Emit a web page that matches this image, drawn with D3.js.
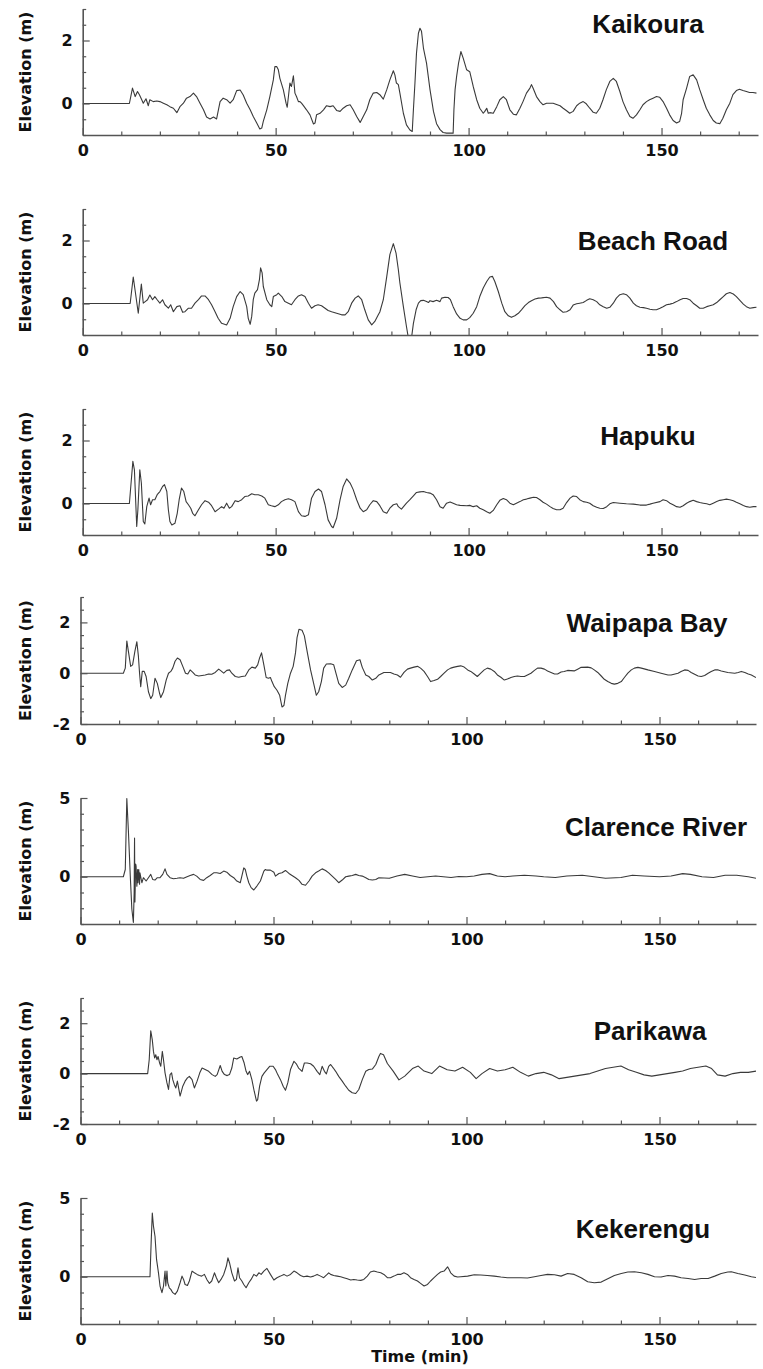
<!doctype html>
<html lang="en">
<head>
  <meta charset="utf-8">
  <title>Tsunami gauges</title>
  <script src="https://cdn.jsdelivr.net/npm/d3@7"></script>
  <style>
    body { margin: 0; background: #fff; }
    .tick line, .domain { stroke: #555; }
    .domain { stroke-width: 1.6px; }
    .tick line { stroke-width: 1.2px; }
    .tick text { font: bold 16px "DejaVu Sans", sans-serif; fill: #111; }
    .ylab, .xlab { font: bold 16px "DejaVu Sans", sans-serif; fill: #111; }
    .title { font: bold 26px "Liberation Sans", Arial, sans-serif; fill: #111; }
    .wave { fill: none; stroke: #3a3a3a; stroke-width: 1.1px; stroke-linejoin: round; }
  </style>
</head>
<body>
<svg id="chart" width="763" height="1369"></svg>
<script>
// station names, top to bottom
var names = ["Kaikoura", "Beach Road", "Hapuku", "Waipapa Bay", "Clarence River", "Parikawa", "Kekerengu"];

// [time (min), elevation (m)]
var kaikoura = [[0,0],[12.1,0],[12.9,0.49],[13.6,0.22],[14.2,0.38],[14.7,0.28],[15.3,0.12],[15.7,0.01],[16.4,0.15],[17.0,-0.07],[17.4,0.12],[18.3,0.06],[19.2,0.08],[20.0,0.06],[20.9,0.01],[21.8,-0.04],[22.6,-0.10],[23.5,-0.15],[24.4,-0.29],[25.2,-0.10],[26.1,0.01],[26.9,0.17],[27.8,0.22],[28.7,0.33],[29.5,0.22],[30.4,0.01],[31.3,-0.20],[32.1,-0.43],[33.0,-0.49],[33.9,-0.43],[34.7,-0.49],[35.6,0.06],[36.4,0.17],[37.3,0.12],[38.2,0.01],[39.0,0.12],[39.9,0.41],[40.8,0.43],[41.6,0.27],[42.5,0.01],[43.4,-0.20],[44.2,-0.41],[45.1,-0.62],[45.9,-0.81],[46.4,-0.78],[46.8,-0.57],[47.7,-0.20],[48.5,0.22],[49.4,0.75],[49.8,1.17],[50.3,1.17],[50.7,1.07],[51.1,0.80],[52.0,0.43],[52.7,0.01],[53.0,-0.12],[53.7,0.65],[54.1,0.54],[54.6,0.88],[55.0,0.33],[55.4,0.22],[55.9,0.06],[56.3,0.06],[56.7,0.01],[57.2,-0.07],[58.0,-0.20],[58.9,-0.36],[59.8,-0.65],[60.2,-0.62],[60.6,-0.36],[61.5,-0.31],[62.4,-0.20],[63.2,-0.07],[64.1,-0.10],[64.9,-0.07],[65.8,-0.22],[66.7,-0.25],[67.5,-0.15],[68.4,-0.07],[69.3,-0.04],[70.1,-0.20],[71.0,-0.41],[71.9,-0.60],[72.7,-0.41],[73.6,-0.20],[74.4,0.12],[75.3,0.33],[76.2,0.35],[77.0,0.28],
  [77.9,0.14],[78.8,0.44],[79.6,0.75],[80.5,1.04],[80.9,0.91],[81.3,0.65],[81.8,0.60],[82.2,0.33],[83.1,-0.31],[83.9,-0.68],[84.8,-0.84],[85.4,-0.89],[85.7,-0.20],[86.1,0.65],[86.5,1.60],[87.0,2.23],[87.4,2.39],[87.8,2.29],[88.3,1.76],[89.1,1.28],[90.0,0.44],[90.9,-0.25],[91.7,-0.64],[92.6,-0.83],[93.4,-0.92],[94.3,-0.94],[95.2,-0.94],[96.0,-0.94],[96.2,-0.20],[96.5,0.44],[96.9,0.86],[97.4,1.28],[98.0,1.65],[98.6,1.44],[99.5,1.07],[100.3,1.01],[101.2,0.54],[102.1,0.12],[102.9,-0.15],[103.8,-0.31],[104.2,-0.25],[104.7,-0.15],[105.1,-0.31],[105.5,-0.29],[106.4,-0.31],[107.3,-0.10],[108.1,0.12],[109.0,0.22],[109.8,0.12],[110.7,-0.20],[111.6,-0.34],[112.4,-0.36],[113.3,-0.15],[114.1,0.06],[115.0,0.33],[115.9,0.49],[116.3,0.60],[116.7,0.49],[117.6,0.22],[118.5,0.06],[119.3,-0.04],[120.2,0.01],[121.9,0.01],[123.7,-0.07],[124.5,-0.15],[125.4,-0.23],[126.2,-0.31],[127.1,-0.25],[128.0,-0.07],[128.8,0.01],[129.7,0.06],[130.5,-0.01],[131.4,-0.15],[132.3,-0.28],[133.1,-0.31],[134.0,-0.15],[134.8,0.11],[135.7,0.44],[136.6,0.70],[137.5,0.80],[138.3,0.70],[139.2,0.38],[140.0,0.06],[140.9,-0.20],[141.8,-0.41],[142.6,-0.47],[143.5,-0.36],[144.4,-0.20],[145.2,-0.04],[146.1,0.06],[146.9,0.12],[147.8,0.17],[148.7,0.22],[149.5,0.20],[150.4,0.06],[151.3,-0.15],[152.1,-0.36],[153.0,-0.54],[153.9,-0.62],[154.7,-0.57],[155.2,-0.31],[155.6,0.12],[156.5,0.49],[157.3,0.86],[158.2,0.91],[159.1,0.75],[159.9,0.44],[160.8,0.12],[161.6,-0.15],[162.5,-0.36],[163.4,-0.54],[164.2,-0.62],[165.1,-0.64],[165.9,-0.47],[166.8,-0.20],[167.7,0.01],[168.5,0.28],[169.4,0.41],[170.2,0.45],[171.1,0.41],[172.0,0.38],[172.8,0.35],[173.7,0.35],[174.6,0.33]];

var beachRoad = [[0,0],[12.3,0],[13.1,0.84],[14.4,-0.31],[15.2,0.62],[15.7,0.01],[16.2,0.06],[16.8,0.12],[17.4,0.27],[18.1,0.12],[18.7,0.22],[19.3,0.12],[20.0,0.01],[20.7,0.12],[21.3,-0.04],[22.2,-0.15],[22.8,-0.04],[23.5,-0.26],[24.4,-0.10],[25.2,-0.07],[25.9,-0.28],[26.5,-0.26],[27.4,-0.15],[28.2,-0.15],[29.1,0.01],[30.0,0.12],[30.8,0.24],[31.7,0.24],[32.6,0.12],[33.4,-0.04],[34.3,-0.26],[35.1,-0.47],[36.0,-0.63],[37.3,-0.68],[38.2,-0.47],[39.0,-0.10],[39.9,0.22],[40.8,0.38],[41.6,0.28],[42.5,-0.10],[42.9,-0.47],[43.4,-0.66],[43.8,-0.41],[44.2,0.12],[44.6,0.33],[45.3,0.44],[45.8,0.76],[46.1,1.13],[46.5,0.97],[46.8,0.54],[47.7,0.12],[48.5,-0.04],[49.0,-0.10],[49.4,0.22],[50.3,0.28],[50.7,0.33],[51.6,0.22],[52.4,0.06],[53.3,0.01],[54.1,-0.04],[55.0,0.12],[55.9,0.24],[56.7,0.28],[57.6,0.22],[58.5,0.01],[59.3,-0.15],[60.2,-0.07],[61.0,-0.04],[61.9,-0.07],[62.8,-0.15],[63.6,-0.22],[64.5,-0.26],[65.8,-0.31],[67.1,-0.36],[68.0,-0.36],[68.8,-0.26],[69.7,0.01],[70.6,0.17],[71.4,0.24],[72.3,0.12],[73.1,-0.20],[74.0,-0.52],[74.9,-0.68],[75.7,-0.57],[76.6,-0.36],[77.0,-0.27],
  [77.9,0.12],[78.8,0.86],[79.6,1.55],[80.5,1.90],[81.2,1.60],[81.8,1.07],[82.2,0.65],[83.1,-0.10],[83.9,-0.73],[84.4,-1.1],[85.2,-1.1],[85.7,-0.63],[86.4,-0.20],[87.0,0.01],[87.6,0.09],[88.3,0.10],[89.1,0.06],[89.6,0.03],[90.0,0.09],[90.8,0.06],[91.7,0.10],[92.6,0.06],[93.0,0.17],[93.9,0.20],[94.7,0.19],[95.3,0.12],[96.0,-0.10],[96.9,-0.33],[97.8,-0.47],[98.6,-0.52],[99.5,-0.52],[100.3,-0.45],[101.2,-0.31],[102.1,-0.10],[102.9,0.22],[103.8,0.49],[104.7,0.70],[105.5,0.84],[106.2,0.86],[106.8,0.70],[107.7,0.38],[108.6,0.01],[109.4,-0.26],[110.3,-0.39],[111.1,-0.44],[112.0,-0.39],[112.9,-0.31],[113.7,-0.20],[114.6,-0.07],[115.5,0.03],[116.3,0.09],[117.2,0.14],[118.1,0.17],[118.9,0.18],[120.2,0.20],[121.1,0.17],[122.0,0.06],[122.8,-0.10],[123.7,-0.20],[124.5,-0.28],[125.4,-0.26],[126.3,-0.20],[127.1,-0.05],[128.0,-0.01],[128.8,0.01],[129.7,0.03],[130.6,0.10],[131.4,0.15],[132.3,0.12],[133.2,0.06],[134.0,-0.04],[134.9,-0.10],[135.8,-0.15],[136.6,-0.12],[137.5,0.01],[138.3,0.17],[139.2,0.28],[140.1,0.31],[140.9,0.28],[141.8,0.17],[142.7,0.01],[143.5,-0.07],[144.4,-0.12],[145.3,-0.13],[146.1,-0.15],[147.0,-0.18],[147.8,-0.20],[148.7,-0.20],[149.6,-0.15],[150.4,-0.10],[151.3,-0.04],[152.2,-0.02],[153.0,0.01],[153.9,0.06],[154.8,0.12],[155.6,0.16],[156.5,0.16],[157.3,0.12],[158.2,0.01],[159.1,-0.07],[159.9,-0.15],[160.8,-0.15],[161.7,-0.10],[162.5,-0.07],[163.4,-0.04],[164.3,0.03],[165.1,0.12],[166.0,0.22],[166.8,0.31],[167.7,0.35],[168.6,0.30],[169.4,0.22],[170.3,0.10],[171.2,-0.02],[172.0,-0.10],[172.9,-0.15],[173.8,-0.13],[174.6,-0.12]];

var hapuku = [[0,0],[12.1,0],[13.0,1.34],[13.4,1.07],[14.0,-0.73],[14.3,-0.20],[14.8,1.07],[15.2,0.65],[15.7,-0.57],[16.1,-0.65],[16.6,-0.10],[17.2,0.17],[17.6,-0.04],[18.1,0.12],[18.7,0.12],[19.3,0.28],[20.0,0.38],[20.7,0.54],[21.2,0.60],[21.8,0.38],[22.2,-0.20],[22.6,-0.57],[23.1,-0.68],[23.9,-0.63],[24.5,-0.31],[25.0,0.12],[25.6,0.49],[26.2,0.38],[26.8,0.06],[27.4,-0.04],[28.0,-0.15],[28.5,-0.31],[29.1,-0.39],[30.0,-0.20],[30.8,-0.04],[31.7,0.09],[32.6,0.04],[33.4,-0.07],[34.3,-0.26],[35.2,-0.18],[36.0,-0.10],[36.6,-0.15],[37.3,0.01],[38.0,-0.15],[38.6,-0.10],[39.5,0.09],[40.3,0.06],[41.2,0.12],[42.0,0.22],[42.9,0.24],[43.8,0.31],[44.6,0.28],[45.5,0.28],[46.4,0.24],[47.2,0.17],[48.1,-0.04],[48.9,-0.07],[49.8,-0.10],[50.7,-0.04],[51.5,0.06],[52.4,0.12],[53.3,0.15],[54.1,0.12],[55.0,0.06],[55.9,-0.26],[56.7,-0.39],[57.6,-0.41],[58.5,-0.36],[59.3,0.17],[60.2,0.38],[61.1,0.46],[61.9,0.38],[62.8,-0.04],[63.6,-0.52],[64.5,-0.73],[64.9,-0.77],[65.8,-0.47],[66.7,0.12],[67.5,0.54],[68.4,0.78],[69.3,0.65],[70.1,0.44],[71.0,0.12],[71.9,-0.15],[72.7,-0.26],[73.6,-0.20],[74.4,-0.04],[75.3,0.09],[76.2,0.06],[77.0,-0.07],
  [77.9,-0.26],[78.8,-0.31],[79.6,-0.15],[80.5,-0.04],[81.4,-0.01],[81.8,-0.10],[82.6,-0.18],[83.9,0.01],[84.8,0.12],[85.7,0.24],[86.5,0.35],[87.4,0.37],[88.3,0.38],[89.1,0.35],[90.0,0.33],[90.8,0.28],[91.7,0.12],[92.6,-0.10],[93.4,-0.15],[94.3,0.01],[95.2,0.05],[96.0,0.01],[96.9,-0.04],[97.8,-0.06],[99.5,-0.07],[100.3,-0.06],[101.2,-0.10],[102.1,-0.07],[102.9,-0.15],[103.8,-0.20],[104.7,-0.26],[105.5,-0.31],[106.4,-0.22],[107.3,-0.04],[108.1,0.10],[109.0,0.16],[109.8,0.12],[110.7,0.01],[111.6,-0.04],[112.4,0.01],[113.3,0.06],[114.2,0.12],[115.0,0.14],[115.9,0.17],[116.8,0.20],[117.6,0.19],[118.5,0.12],[119.3,0.04],[120.2,-0.02],[121.1,-0.10],[121.9,-0.16],[122.8,-0.20],[123.7,-0.20],[124.5,-0.15],[125.4,0.03],[126.3,0.17],[127.1,0.24],[128.0,0.22],[128.8,0.12],[129.7,0.06],[130.6,0.04],[131.4,0.01],[132.3,-0.07],[133.2,-0.12],[134.0,-0.15],[134.9,-0.16],[135.8,-0.10],[136.6,-0.01],[137.5,0.03],[139.2,0.01],[140.9,-0.01],[142.7,-0.02],[144.4,-0.05],[146.1,-0.05],[147.0,-0.02],[147.8,0.01],[149.6,0.06],[150.4,0.12],[151.3,0.09],[152.2,0.01],[153.0,-0.04],[153.9,-0.10],[154.8,-0.12],[155.6,-0.07],[156.5,0.01],[157.3,0.06],[158.2,0.10],[159.1,0.06],[159.9,0.03],[160.8,0.01],[161.7,-0.01],[162.5,-0.04],[163.4,0.01],[164.3,0.06],[165.1,0.10],[166.0,0.12],[166.8,0.14],[167.7,0.12],[168.6,0.09],[169.4,0.04],[170.3,-0.01],[171.2,-0.06],[172.0,-0.10],[172.9,-0.12],[173.8,-0.10],[174.6,-0.10]];

var waipapaBay = [[0,0],[11.1,0],[11.6,0.20],[12.0,1.27],[12.4,0.87],[13.0,0.27],[13.5,0.33],[14.1,0.87],[14.6,1.24],[15.0,0.67],[15.3,0],[15.6,-0.53],[16.0,0.07],[16.5,0.07],[17.0,-0.13],[17.6,-0.73],[18.2,-1.00],[18.7,-0.87],[19.3,-0.20],[19.9,-0.40],[20.5,-0.80],[20.8,-0.96],[21.5,-0.73],[22.2,-0.27],[22.8,0],[23.4,0.07],[23.9,0.20],[24.5,0.47],[25.1,0.60],[25.8,0.53],[26.5,0.27],[27.2,0],[27.8,-0.03],[28.4,0.13],[29.1,0.03],[29.7,-0.07],[30.6,-0.11],[31.5,-0.09],[32.3,-0.07],[33.2,-0.03],[34.0,-0.04],[34.9,0.03],[35.8,0.16],[36.4,0.09],[37.1,0],[37.9,0.11],[38.6,0.13],[39.2,0],[40.1,-0.13],[41.0,-0.16],[41.8,-0.13],[42.7,-0.11],[43.6,0.13],[44.4,0.24],[45.3,0.20],[45.9,0.33],[46.4,0.60],[46.9,0.80],[47.5,0.33],[48.1,-0.17],[48.7,-0.20],[49.2,-0.17],[49.6,-0.33],[50.2,-0.53],[50.9,-0.67],[51.6,-0.87],[52.2,-1.33],[52.7,-1.27],[53.1,-0.87],[53.7,-0.40],[54.4,0],[55.1,0.27],[55.7,0.80],[56.1,1.40],[56.6,1.73],[57.4,1.69],[58.0,1.47],[58.7,0.87],[59.6,0.13],[60.4,-0.40],[61.1,-0.87],[61.7,-0.73],[62.4,-0.33],[63.0,0.20],[63.7,0.36],[64.8,0.37],[65.6,0.33],[66.3,-0.07],[66.9,-0.40],[67.8,-0.56],[68.7,-0.47],[69.5,-0.20],[70.4,0.13],[71.5,0.49],[72.4,0.53],[73.0,0.23],[73.9,-0.07],[74.7,-0.13],[75.6,-0.27],[76.5,-0.20],[77.3,-0.07],
  [78.6,0.03],[80.3,0.03],[81.2,-0.03],[82.1,-0.07],[82.9,-0.16],[83.8,0.03],[84.7,0.16],[85.5,0.20],[86.4,0.24],[87.3,0.27],[88.1,0.20],[89.0,0.07],[89.9,-0.13],[90.7,-0.33],[91.6,-0.29],[92.5,-0.24],[93.3,-0.13],[94.2,0],[95.1,0.13],[95.9,0.20],[96.8,0.24],[97.7,0.27],[98.5,0.29],[99.4,0.24],[100.3,0.13],[101.1,0.07],[102.0,-0.03],[102.8,-0.13],[103.7,0],[104.6,0.13],[105.4,0.20],[106.3,0.16],[107.2,0.07],[108.0,-0.07],[108.9,-0.16],[109.8,-0.27],[110.6,-0.23],[111.5,-0.17],[112.4,-0.13],[113.2,-0.11],[114.1,-0.13],[115.0,-0.13],[115.8,-0.07],[116.7,0],[117.6,0.11],[118.4,0.20],[119.3,0.20],[120.2,0.16],[121.0,0.09],[121.9,0.03],[122.8,-0.03],[123.6,-0.03],[124.5,0.05],[125.3,0.07],[126.2,0.11],[127.9,0.09],[128.8,0.16],[129.7,0.23],[131.4,0.24],[132.3,0.21],[133.1,0.13],[134.0,0.03],[134.9,-0.11],[135.7,-0.24],[136.6,-0.33],[137.5,-0.40],[138.3,-0.43],[139.2,-0.40],[140.1,-0.33],[140.9,-0.17],[141.8,0],[142.7,0.13],[143.5,0.20],[144.4,0.23],[145.3,0.20],[147.0,0.13],[148.7,0.07],[150.4,0],[152.2,-0.07],[153.0,-0.07],[154.8,0],[155.6,0.07],[156.5,0.13],[157.4,0.11],[158.2,0.03],[159.1,-0.04],[160.0,-0.11],[160.8,-0.13],[161.7,-0.09],[162.6,0],[163.4,0.07],[164.3,0.13],[165.2,0.13],[166.0,0.09],[167.7,0.03],[169.5,0],[170.4,0.03],[171.2,0.07],[172.1,0.03],[173.0,-0.03],[173.8,-0.07],[175.0,-0.17]];

var clarenceRiver = [[0,0],[11.1,0],[11.6,0.46],[12.0,4.96],[12.4,2.97],[12.9,0.04],[13.3,-2.05],[13.7,-2.9],[13.9,-1.0],[14.0,2.45],[14.1,-1.6],[14.3,0.8],[14.4,0.67],[14.6,-0.6],[14.8,0.46],[14.9,-0.38],[15.1,0.46],[15.3,-0.48],[15.4,0.25],[15.9,-0.38],[16.3,-0.06],[17.0,-0.27],[17.6,-0.06],[18.2,0.15],[18.7,-0.17],[19.3,-0.21],[19.9,-0.06],[20.6,-0.06],[21.3,0.15],[21.9,0.50],[22.4,0.15],[23.2,-0.06],[24.1,-0.13],[25.0,-0.10],[25.8,-0.06],[26.7,-0.10],[27.6,0],[28.4,0.08],[29.3,0.15],[30.1,0.04],[31.0,-0.17],[31.9,-0.23],[32.7,-0.06],[33.6,0.08],[34.5,0.25],[35.3,0.25],[36.2,0.21],[37.1,0.36],[37.9,0.29],[38.8,0.08],[39.7,-0.06],[40.5,-0.27],[41.4,-0.38],[41.8,0.04],[42.3,0.56],[42.7,0.46],[43.1,0.04],[43.6,-0.38],[44.2,-0.69],[44.9,-0.84],[45.7,-0.59],[46.6,-0.27],[47.5,0.36],[47.9,0.46],[48.3,0.42],[49.2,0.42],[50.1,0.29],[50.5,0.04],[51.4,0.21],[52.2,0.25],[53.1,0.40],[54.0,0.21],[54.8,0.08],[55.7,-0.06],[56.6,-0.23],[57.4,-0.48],[58.3,-0.54],[59.2,-0.27],[60.0,0.04],[60.9,0.25],[61.7,0.36],[62.6,0.50],[63.5,0.40],[64.3,0.25],[65.2,0.04],[66.1,-0.17],[66.9,-0.38],[67.8,-0.21],[68.7,0],[69.5,0.04],[70.4,0.08],[71.3,0.15],[72.1,0.08],[73.0,0.04],[73.9,-0.06],[74.7,-0.17],[75.6,-0.21],[76.5,-0.17],[77.3,-0.06],
  [80,-0.1],[82,0.05],[84,0.15],[86,0.05],[88,-0.05],[90,0],[92,0.05],[94,0],[96,-0.05],[98,0.02],[100,0],[102,0.05],[104,0.15],[106,0.2],[108,0.05],[110,0],[112,0.05],[115,0.1],[118,0.05],[120,0],[123,-0.05],[126,0.05],[130,0.1],[133,0],[136,-0.1],[140,-0.05],[143,0.1],[146,0.05],[150,0],[153,0.05],[156,0.2],[158,0.15],[161,0],[164,-0.05],[167,0.1],[170,0.1],[173,0],[175,-0.1]];

var parikawa = [[0,0],[17.4,0],[17.8,0.55],[18.2,1.70],[18.6,1.34],[18.9,0.88],[19.2,0.62],[19.5,0.75],[19.8,0.55],[20.1,0.68],[20.5,0.42],[20.8,0.29],[21.2,0.88],[21.5,0.55],[21.9,0.03],[22.4,-0.37],[22.8,-0.63],[23.2,-0.04],[23.6,0.03],[23.9,-0.24],[24.3,-0.43],[24.7,-0.57],[25.1,-0.30],[25.8,-0.89],[26.5,-0.50],[27.1,-0.30],[27.7,-0.17],[28.2,-0.11],[28.9,-0.24],[29.5,-0.57],[30.2,-0.30],[30.9,0.03],[31.5,0.22],[32.3,0.16],[33.2,0.09],[34.1,-0.04],[34.9,-0.11],[35.4,-0.04],[36.2,0.32],[36.7,0.09],[37.3,-0.04],[38.0,-0.08],[38.6,-0.04],[39.2,0.22],[39.7,0.62],[40.5,0.58],[41.4,0.66],[41.8,0.68],[42.4,0.42],[42.9,0.09],[43.3,-0.04],[43.8,0.09],[44.4,-0.24],[45.0,-0.70],[45.6,-1.09],[45.9,-1.03],[46.4,-0.50],[47.0,-0.11],[47.6,0.03],[48.3,0.16],[49.0,0.29],[49.9,0.29],[50.5,0.16],[51.1,-0.04],[51.8,-0.24],[52.5,-0.50],[53.1,-0.66],[53.7,-0.37],[54.4,0.16],[55.3,0.49],[55.9,0.39],[56.5,0.22],[57.4,0.09],[58.0,0.42],[58.7,0.42],[59.6,0.39],[60.4,0.29],[61.3,0.09],[62.0,-0.04],[62.6,0.29],[63.2,0.09],[63.7,-0.01],[64.3,0.29],[64.8,0.36],[65.5,0.22],[66.1,0.09],[66.9,-0.11],[67.8,-0.30],[68.7,-0.50],[69.5,-0.66],[70.4,-0.76],[71.3,-0.79],[72.1,-0.63],[73.0,-0.24],[73.9,0.09],[74.7,0.16],[75.6,0.18],[76.5,0.36],[77.3,0.68],[77.7,0.80],
  [78.5,0.75],[79.5,0.4],[81,0.1],[82.5,-0.25],[84,-0.1],[86,0.2],[87.5,0.3],[89,0.1],[91,0],[93,0.3],[95,0.15],[97,0.1],[99,0.25],[101,0.05],[102.5,-0.2],[104,0],[106,0.2],[108,0.1],[110,0.15],[112,0.25],[114,0.05],[116,-0.1],[118,0],[120,0.05],[122,-0.05],[124,-0.2],[126,-0.15],[128,-0.1],[130,-0.05],[132,0],[134,0.1],[136,0.2],[138,0.25],[140,0.3],[142,0.15],[144,0.05],[146,-0.05],[148,-0.1],[150,-0.05],[152,0],[154,0.05],[156,0.1],[158,0.2],[160,0.25],[162,0.3],[163.5,0.2],[165,-0.05],[167,-0.1],[169,0],[171,0.05],[173,0.05],[175,0.1]];

var kekerengu = [[0,0],[18.0,0],[18.3,2.15],[18.6,4.05],[18.9,3.21],[19.3,2.57],[19.7,1.10],[20.2,0.25],[20.6,-0.59],[21.1,-1.01],[21.5,-0.59],[21.9,0.36],[22.1,-0.59],[22.4,0.36],[22.6,-0.38],[23.0,-0.70],[23.4,-0.80],[23.9,-1.01],[24.5,-1.12],[25.1,-0.91],[25.8,-0.38],[26.3,0.04],[26.7,-0.17],[27.1,-0.49],[27.7,-0.55],[28.2,-0.27],[28.9,0.36],[29.5,0.25],[30.2,0.15],[30.8,0.08],[31.4,0.04],[32.1,0.15],[32.8,-0.21],[33.4,-0.42],[34.0,-0.27],[34.7,0.25],[35.2,-0.06],[35.8,-0.38],[36.4,-0.17],[37.1,0.15],[37.8,0.68],[38.2,1.20],[38.6,0.89],[39.2,0.25],[39.9,-0.27],[40.4,-0.17],[40.8,0.57],[41.2,-0.06],[41.8,-0.27],[42.3,-0.49],[42.9,-0.70],[43.6,-0.38],[44.2,-0.17],[44.9,0.15],[45.6,0.04],[46.2,0.25],[46.8,0.15],[47.5,0.36],[48.3,0.53],[49.2,0.15],[50.1,-0.21],[50.9,-0.06],[51.8,0.04],[52.7,0.15],[53.5,0.04],[54.4,0.15],[55.3,0.36],[56.1,0.25],[57.0,0.08],[57.8,0],[58.7,0.04],[59.6,-0.02],[60.4,0.04],[61.3,0.15],[62.2,0.04],[63.0,-0.06],[63.9,0.15],[64.3,0.25],[64.8,0.15],[65.6,0.08],[66.5,0.04],[67.4,0],[68.2,-0.06],[69.1,-0.13],[70.0,-0.21],[70.8,-0.17],[71.7,-0.21],[72.6,-0.23],[73.4,-0.17],[74.3,0.04],[75.1,0.30],[76.0,0.36],[76.9,0.30],
  [77.8,0.25],[78.6,0.15],[79.5,-0.06],[80.3,-0.06],[81.2,0.04],[82.1,0.15],[82.9,0.15],[83.8,0.25],[84.7,0.15],[85.5,-0.06],[86.4,-0.17],[87.3,-0.27],[88.1,-0.42],[89.0,-0.59],[89.9,-0.49],[90.7,-0.27],[91.6,-0.06],[92.5,0.15],[93.3,0.30],[94.2,0.36],[95.1,0.63],[95.5,0.46],[95.9,0.25],[96.8,0.04],[97.7,-0.02],[98.5,0],[100.3,0.04],[102.0,0.13],[103.7,0.11],[105.4,0.08],[107.2,0.04],[108.9,-0.02],[110.6,-0.06],[112.4,-0.06],[114.1,-0.06],[115.8,-0.08],[117.6,0],[119.3,0.08],[121.0,0.15],[122.8,0.13],[124.5,0.04],[126.2,0.21],[127.9,0.15],[129.7,-0.06],[131.4,-0.32],[133.1,-0.38],[134.9,-0.34],[136.6,-0.13],[138.3,0.08],[140.1,0.21],[141.8,0.30],[143.5,0.32],[145.3,0.25],[147.0,0.15],[148.7,0],[150.4,-0.02],[152.2,0.08],[153.9,0.04],[155.6,-0.06],[157.4,-0.11],[159.1,-0.17],[160.8,-0.11],[162.6,-0.11],[164.3,0.04],[166.0,0.21],[167.7,0.30],[168.6,0.32],[170.3,0.21],[172.1,0.11],[173.8,0],[175.0,-0.05]];

var series = [kaikoura, beachRoad, hapuku, waipapaBay, clarenceRiver, parikawa, kekerengu];

// axes
var xDomain = [0, 175];
var xLabels = [0, 50, 100, 150];
var xMinorStep = 10;
var yDomains = [[-1, 3], [-1, 3], [-1, 3], [-2, 3], [-3, 5], [-2, 3], [-3, 5]];
var yLabels = [[0, 2], [0, 2], [0, 2], [-2, 0, 2], [0, 5], [-2, 0, 2], [0, 5]];
var yMinorStep = [0.5, 0.5, 0.5, 0.5, 1, 0.5, 1];

// layout (pixels)
var panelTop = [9, 209, 409, 597, 798, 998, 1198];
var panelBottom = [135, 335, 535, 724, 924, 1124, 1324];
var panelLeft = [82.7, 82.7, 82.7, 80.5, 80.5, 80.5, 80.5];
var panelRight = [758, 758, 758, 756, 756, 756, 756];
var titleX = [648, 653, 648, 647, 656, 650, 643];
var titleY = [33, 250, 445, 632, 836, 1040, 1238];

var svg = d3.select("#chart");
svg.append("rect").attr("width", 763).attr("height", 1369).attr("fill", "#fff");

function range(lo, hi, step) {
  var out = [];
  for (var v = lo; v <= hi + 1e-9; v += step) out.push(+v.toFixed(3));
  return out;
}

// plain labels: "2", "0", "-2" (hyphen, no decimals)
function plain(d) { return String(d); }

series.forEach(function (data, i) {
  var x = d3.scaleLinear().domain(xDomain).range([panelLeft[i], panelRight[i]]);
  var y = d3.scaleLinear().domain(yDomains[i]).range([panelBottom[i], panelTop[i]]);
  var g = svg.append("g");

  g.append("clipPath").attr("id", "clip" + i)
    .append("rect")
      .attr("x", panelLeft[i]).attr("y", panelTop[i])
      .attr("width", panelRight[i] - panelLeft[i])
      .attr("height", panelBottom[i] - panelTop[i]);

  var line = d3.line()
      .x(function (d) { return x(d[0]); })
      .y(function (d) { return y(d[1]); });

  g.append("path")
      .datum(data)
      .attr("class", "wave")
      .attr("clip-path", "url(#clip" + i + ")")
      .attr("d", line);

  // minor ticks first, then labelled ticks + axis line
  var xMinor = range(xDomain[0], xDomain[1], xMinorStep).filter(function (v) { return xLabels.indexOf(v) < 0; });
  g.append("g")
      .attr("transform", "translate(0," + panelBottom[i] + ")")
      .call(d3.axisBottom(x).tickValues(xMinor).tickSize(-3.5).tickSizeOuter(0).tickFormat(""))
      .call(function (s) { s.select(".domain").remove(); });
  var yMinor = range(yDomains[i][0], yDomains[i][1], yMinorStep[i]).filter(function (v) { return yLabels[i].indexOf(v) < 0; });
  g.append("g")
      .attr("transform", "translate(" + panelLeft[i] + ",0)")
      .call(d3.axisLeft(y).tickValues(yMinor).tickSize(-3.5).tickSizeOuter(0).tickFormat(""))
      .call(function (s) { s.select(".domain").remove(); });

  g.append("g")
      .attr("transform", "translate(0," + panelBottom[i] + ")")
      .call(d3.axisBottom(x).tickValues(xLabels).tickSize(-7).tickSizeOuter(0).tickPadding(9.5).tickFormat(plain))
      .call(function (s) { s.attr("font-family", null).attr("font-size", null); });
  g.append("g")
      .attr("transform", "translate(" + panelLeft[i] + ",0)")
      .call(d3.axisLeft(y).tickValues(yLabels[i]).tickSize(-7).tickSizeOuter(0).tickPadding(10).tickFormat(plain))
      .call(function (s) { s.attr("font-family", null).attr("font-size", null); });

  g.append("text")
      .attr("class", "ylab")
      .attr("transform", "translate(31," + (panelTop[i] + panelBottom[i]) / 2 + ") rotate(-90)")
      .attr("text-anchor", "middle")
      .text("Elevation (m)");

  g.append("text")
      .attr("class", "title")
      .attr("x", titleX[i]).attr("y", titleY[i])
      .attr("text-anchor", "middle")
      .text(names[i]);
});

svg.append("text")
    .attr("class", "xlab")
    .attr("x", 420).attr("y", 1362)
    .attr("text-anchor", "middle")
    .text("Time (min)");
</script>
</body>
</html>
